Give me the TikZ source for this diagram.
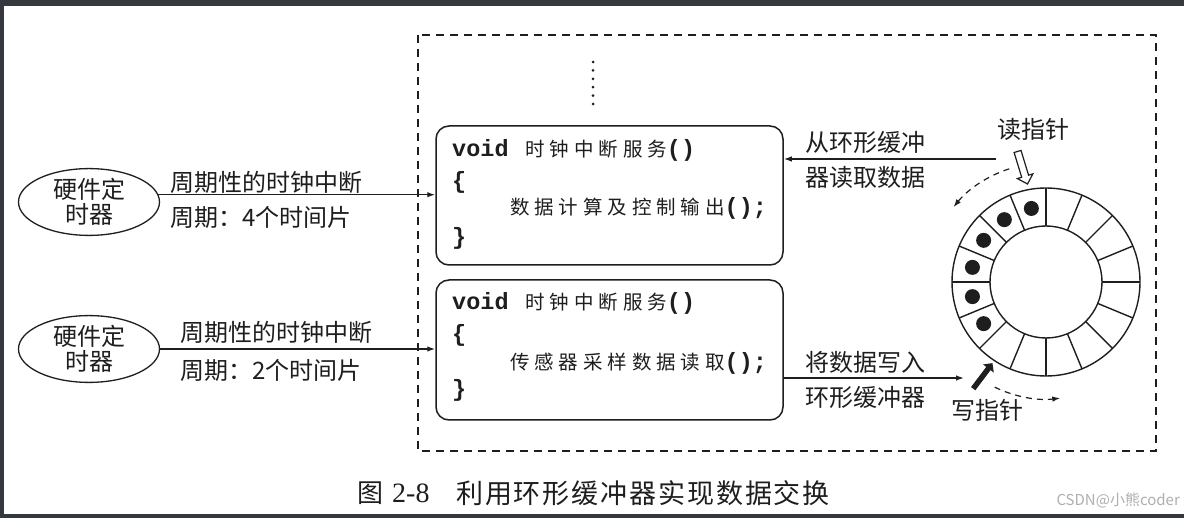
\documentclass[tikz,border=0pt]{standalone}
\usepackage{fontspec}
\setmainfont{Liberation Serif}
\newfontfamily\cjk{Noto Sans CJK SC}
\newfontfamily\cjkcode[LetterSpace=25]{Noto Sans CJK SC}
\newfontfamily\cjkcap[LetterSpace=7]{Noto Sans CJK SC}
\newfontfamily\monof{Liberation Mono}
\usetikzlibrary{arrows.meta,shapes.geometric,shapes.arrows,calc}
\definecolor{ink}{RGB}{30,30,30}
\definecolor{chrome}{RGB}{53,56,61}
\definecolor{wmark}{RGB}{175,175,175}
\tikzset{
  arr/.style={draw=ink,line width=1.4pt,-{Latex[length=8pt,width=5.5pt]}},
  frame/.style={draw=ink,line width=1.3pt,dash pattern=on 8pt off 6pt},
  timer/.style={ellipse,draw=ink,line width=1.3pt,minimum width=141pt,minimum height=60pt,inner sep=0pt,align=center,text=ink,font=\cjk\fontsize{24}{25}\selectfont},
  codebox/.style={draw=ink,line width=1.5pt,rounded corners=13pt,minimum width=347pt},
  codeline/.style={anchor=west,inner sep=0pt,text=ink},
  lbl/.style={inner sep=0pt,text=ink,font=\cjk\fontsize{24}{26}\selectfont},
  ringline/.style={draw=ink,line width=1.4pt},
  ptrdash/.style={draw=ink,line width=1.2pt,dash pattern=on 6pt off 5pt,-{Latex[length=8pt,width=5.5pt]}},
}
\newcommand{\mb}[1]{{\monof\bfseries\fontsize{23.5}{26}\selectfont #1}}
\newcommand{\cc}[1]{{\cjkcode\fontsize{19.5}{24}\selectfont #1}}
\begin{document}
\begin{tikzpicture}[x=1pt,y=-1pt]
\useasboundingbox (0,0) rectangle (1184,518);
\fill[white] (0,0) rectangle (1184,518);
% screenshot chrome
\fill[chrome] (0,0) rectangle (1184,6);
\fill[chrome] (0,0) rectangle (4,518);
\fill[chrome] (0,514) rectangle (1184,518);
% dashed frame
\draw[frame] (418,35) rectangle (1156,451);
% vertical ellipsis
\foreach \i in {0,...,5} \fill[ink] (593,{62+8.4*\i}) circle (1.5);
% timers
\node[timer] (t1) at (89,202) {硬件定\\时器};
\node[timer] (t2) at (89,349) {硬件定\\时器};
% code boxes
\node[codebox,minimum height=139pt] (b1) at (609.5,195.5) {};
\node[codebox,minimum height=140pt] (b2) at (609.5,350) {};
\node[codeline] (b1l1) at (452,150) {\mb{void}\hspace{17pt}\cc{时钟中断服务}\mb{()}};
\node[codeline] (b1l2) at (452,182) {\mb{\{}};
\node[codeline] (b1l3) at (510,208) {\cc{数据计算及控制输出}\mb{();}};
\node[codeline] (b1l4) at (452,238) {\mb{\}}};
\node[codeline] (b2l1) at (452,303) {\mb{void}\hspace{17pt}\cc{时钟中断服务}\mb{()}};
\node[codeline] (b2l2) at (452,335) {\mb{\{}};
\node[codeline] (b2l3) at (510,363) {\cc{传感器采样数据读取}\mb{();}};
\node[codeline] (b2l4) at (452,390) {\mb{\}}};
% timer arrows
\draw[arr] (t1.6) -- (t1.6 -| b1.west);
\draw[arr] (t2.east) -- (t2.east -| b2.west);
\node[lbl,anchor=west] (l1a) at (170,182) {周期性的时钟中断};
\node[lbl,anchor=west] (l1b) at (170,217) {周期：4个时间片};
\node[lbl,anchor=west] (l2a) at (180,332) {周期性的时钟中断};
\node[lbl,anchor=west] (l2b) at (180,370) {周期：2个时间片};
% ring buffer
\coordinate (ring) at (1046,282);
\coordinate (rd) at (996,159);
\coordinate (wr) at (964,378);
\begin{scope}[shift={(ring)},yscale=-1]
  \draw[ringline,fill=white] (0,0) circle (94);
  \draw[ringline] (0,0) circle (56);
  \foreach \a in {0,22.5,...,337.5} \draw[ringline] (\a:56) -- (\a:94);
  \foreach \a in {101.25,123.75,...,213.75} \fill[ink] (\a:75) circle (7.5);
  \draw[ptrdash] (108:119) arc[start angle=108,end angle=141,radius=119];
  \draw[ptrdash] (244:117) arc[start angle=244,end angle=277,radius=117];
\end{scope}
% read path
\draw[arr] (rd) -- (rd -| b1.east);
\node[lbl] (r1) at (865,142) {从环形缓冲};
\node[lbl] (r2) at (865,177) {器读取数据};
% write path
\draw[arr] (wr -| b2.east) -- (wr);
\node[lbl] (w1) at (865,362) {将数据写入};
\node[lbl] (w2) at (865,397) {环形缓冲器};
% pointers
\node[lbl] (rpl) at (1033,129) {读指针};
\node[single arrow,draw=ink,fill=white,line width=1.2pt,minimum height=34pt,inner sep=3pt,single arrow head extend=4.5pt,rotate=-73] (rp) at (1022,166) {};
\node[lbl] (wpl) at (987,410) {写指针};
\node[single arrow,fill=ink,minimum height=32pt,inner sep=2.5pt,single arrow head extend=4pt,rotate=53] (wp) at (982,377) {};
% caption
\node[anchor=west,inner sep=0pt,text=ink] (cap1) at (357,493) {{\cjk\fontsize{26}{30}\selectfont 图}\hspace{9pt}{\fontsize{28}{30}\selectfont 2-8}};
\node[anchor=west,inner sep=0pt,text=ink] (cap2) at (456,493) {\cjkcap\fontsize{27}{30}\selectfont 利用环形缓冲器实现数据交换};
% watermark
\node[anchor=east,inner sep=0pt,text=wmark] (wm) at (1180,500) {\cjk\fontsize{15}{17}\selectfont CSDN@小熊coder};
\end{tikzpicture}
\end{document}
